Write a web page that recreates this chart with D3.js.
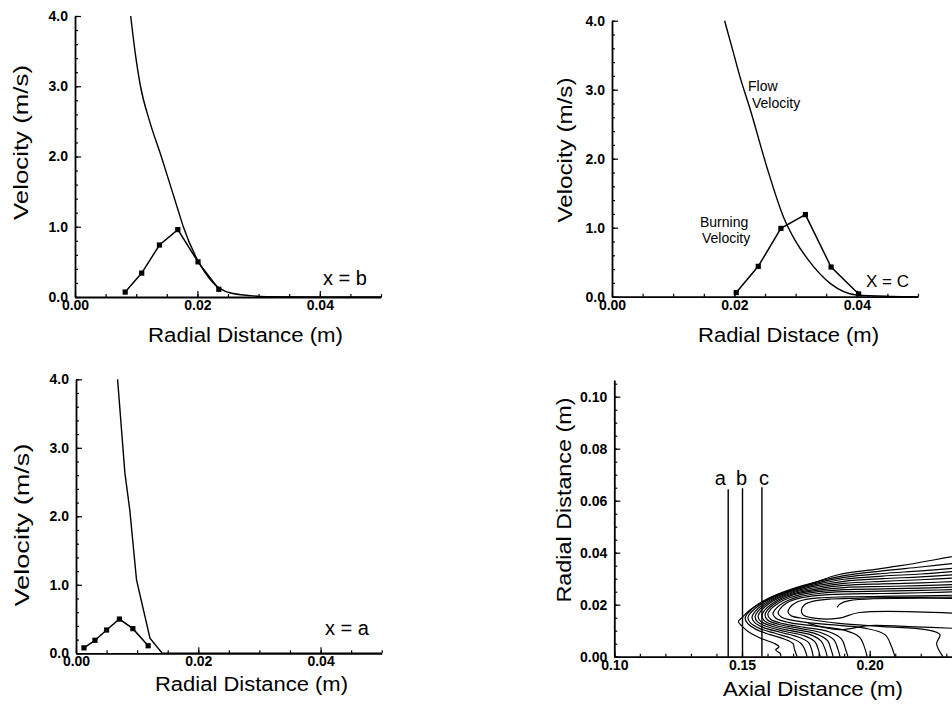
<!DOCTYPE html>
<html><head><meta charset="utf-8">
<script src="https://cdn.jsdelivr.net/npm/d3@7"></script>
<style>
body{margin:0;background:#fff}
text{font-family:"Liberation Sans",Arial,Helvetica,sans-serif;fill:#000}
.tick text{font-weight:bold;font-size:14px}
</style>
</head><body>
<svg id="chart" width="952" height="705"></svg>
<script>
// ---------------- data ----------------
const velocityTicks = [0, 1, 2, 3, 4];
const velocityMinor = d3.range(0, 4.01, 0.2);
const radialTicks = [0, 0.02, 0.04];
const radialMinor = d3.range(0, 0.0501, 0.005);

// x = b
const flowB_r = [0.0091, 0.0098, 0.0107, 0.0122, 0.0141, 0.0159, 0.0168, 0.0177, 0.0200, 0.0226, 0.0253, 0.0286, 0.0313, 0.0400, 0.0500];
const flowB_v = [4.0, 3.5, 3.0, 2.5, 2.0, 1.5, 1.25, 1.0, 0.53, 0.20, 0.06, 0.02, 0.005, 0.0, 0.0];
const burnB_r = [0.0082, 0.0109, 0.0138, 0.0168, 0.0201, 0.0235];
const burnB_v = [0.07, 0.34, 0.74, 0.96, 0.50, 0.11];

// x = c
const flowC_r = [0.0184, 0.0197, 0.0209, 0.0226, 0.0253, 0.0280, 0.0299, 0.0321, 0.0357, 0.0400, 0.0455, 0.0500];
const flowC_v = [4.0, 3.58, 3.19, 2.71, 1.88, 1.16, 0.82, 0.53, 0.19, 0.025, 0.005, 0.0];
const burnC_r = [0.0203, 0.0239, 0.0276, 0.0316, 0.0358, 0.0403];
const burnC_v = [0.06, 0.44, 0.99, 1.19, 0.43, 0.04];

// x = a
const flowA_r = [0.0068, 0.0080, 0.0088, 0.0099, 0.0121, 0.0141, 0.0500];
const flowA_v = [4.0, 2.63, 2.09, 1.07, 0.22, 0.0, 0.0];
const burnA_r = [0.0013, 0.0031, 0.0050, 0.0071, 0.0093, 0.0118];
const burnA_v = [0.08, 0.19, 0.34, 0.50, 0.36, 0.11];

// contour panel
const axialTicks = [0.10, 0.15, 0.20];
const axialMinor = d3.range(0.10, 0.2501, 0.01);
const radialMapTicks = [0, 0.02, 0.04, 0.06, 0.08, 0.10];
const radialMapMinor = d3.range(0, 0.1051, 0.005);
const stationNames = ["a", "b", "c"];
const stationX = [0.1446, 0.1502, 0.1578];
const stationTop = [0.0644, 0.0648, 0.0652];

// contour lines: [axial, radial] pairs
const contours = [
 [[0.236,0.0392],[0.225,0.0372],[0.212,0.0350],[0.203,0.0337],[0.188,0.0316],[0.178,0.0284],[0.1675,0.0250],[0.1597,0.0218],[0.1531,0.0180],[0.1503,0.0153],[0.1486,0.0135],[0.1503,0.0115],[0.1531,0.0092],[0.1580,0.0068],[0.1625,0.0052],[0.1645,0.0038],[0.1632,0.0026],[0.1650,0.0012],[0.1652,0]],
 [[0.236,0.0362],[0.22,0.0345],[0.205,0.0330],[0.19,0.0312],[0.18,0.0290],[0.170,0.0262],[0.162,0.0232],[0.156,0.0200],[0.1525,0.0170],[0.1512,0.0148],[0.1522,0.0128],[0.1555,0.0105],[0.161,0.0085],[0.1665,0.0068],[0.170,0.0050],[0.1705,0.0030],[0.1716,0]],
 [[0.236,0.0343],[0.22,0.0330],[0.205,0.0320],[0.19,0.0305],[0.18,0.0285],[0.170,0.0258],[0.1625,0.0230],[0.157,0.0200],[0.1535,0.0170],[0.1523,0.0150],[0.1533,0.0130],[0.157,0.0108],[0.163,0.0090],[0.169,0.0072],[0.173,0.0052],[0.1745,0.0030],[0.1755,0]],
 [[0.236,0.0330],[0.22,0.0318],[0.205,0.0310],[0.19,0.0298],[0.18,0.0280],[0.170,0.0254],[0.163,0.0228],[0.158,0.0200],[0.155,0.0172],[0.1539,0.0152],[0.1549,0.0132],[0.1585,0.0112],[0.165,0.0094],[0.172,0.0076],[0.176,0.0055],[0.1772,0.0030],[0.1779,0]],
 [[0.236,0.0317],[0.22,0.0307],[0.205,0.0300],[0.19,0.0290],[0.18,0.0274],[0.170,0.0250],[0.1635,0.0226],[0.159,0.0200],[0.1562,0.0174],[0.1551,0.0154],[0.1561,0.0134],[0.160,0.0115],[0.167,0.0097],[0.1745,0.0080],[0.1785,0.0058],[0.1798,0.0030],[0.1806,0]],
 [[0.236,0.0304],[0.22,0.0296],[0.205,0.0290],[0.19,0.0282],[0.18,0.0268],[0.170,0.0246],[0.164,0.0224],[0.160,0.0200],[0.1574,0.0176],[0.1563,0.0156],[0.1573,0.0136],[0.1615,0.0118],[0.169,0.0100],[0.177,0.0084],[0.181,0.0060],[0.1825,0.0030],[0.1834,0]],
 [[0.236,0.0290],[0.22,0.0284],[0.205,0.0280],[0.19,0.0274],[0.18,0.0262],[0.170,0.0242],[0.1648,0.0222],[0.1612,0.0200],[0.1588,0.0178],[0.1578,0.0158],[0.1588,0.0138],[0.163,0.0121],[0.171,0.0104],[0.179,0.0088],[0.1835,0.0062],[0.1848,0.0030],[0.1857,0]],
 [[0.236,0.0279],[0.22,0.0273],[0.205,0.0270],[0.19,0.0266],[0.18,0.0256],[0.170,0.0238],[0.1655,0.0220],[0.1622,0.0200],[0.1600,0.0180],[0.1590,0.0160],[0.1600,0.0141],[0.1645,0.0124],[0.173,0.0108],[0.181,0.0092],[0.186,0.0065],[0.1875,0.0030],[0.1884,0]],
 [[0.236,0.0269],[0.22,0.0264],[0.205,0.0261],[0.19,0.0258],[0.18,0.0250],[0.171,0.0234],[0.1665,0.0218],[0.1634,0.0200],[0.1612,0.0182],[0.1601,0.0162],[0.1612,0.0144],[0.166,0.0127],[0.175,0.0112],[0.184,0.0096],[0.189,0.0068],[0.1905,0.0030],[0.1915,0]],
 [[0.236,0.0259],[0.22,0.0255],[0.205,0.0252],[0.19,0.0250],[0.18,0.0243],[0.172,0.0230],[0.168,0.0216],[0.165,0.0200],[0.1632,0.0184],[0.1621,0.0165],[0.1633,0.0148],[0.168,0.0132],[0.178,0.0118],[0.190,0.0102],[0.196,0.0075],[0.198,0.0035],[0.1990,0]],
 [[0.236,0.0250],[0.22,0.0246],[0.205,0.0243],[0.19,0.0241],[0.18,0.0236],[0.173,0.0226],[0.169,0.0214],[0.1665,0.0200],[0.1650,0.0185],[0.1641,0.0168],[0.1655,0.0152],[0.171,0.0138],[0.182,0.0125],[0.198,0.0110],[0.206,0.0085],[0.2085,0.0040],[0.2099,0]],
 [[0.236,0.0237],[0.22,0.0234],[0.205,0.0232],[0.19,0.0230],[0.18,0.0226],[0.174,0.0218],[0.1705,0.0205],[0.1688,0.0190],[0.1680,0.0172],[0.1693,0.0157],[0.175,0.0146],[0.188,0.0128],[0.205,0.0116],[0.222,0.0104],[0.2275,0.0085],[0.2262,0.0050],[0.2287,0]],
 [[0.236,0.0230],[0.22,0.0228],[0.20,0.0226],[0.185,0.0222],[0.178,0.0214],[0.1745,0.0200],[0.1733,0.0180],[0.1738,0.0162],[0.177,0.0150],[0.188,0.0148],[0.196,0.0170],[0.236,0.0166]],
 [[0.1872,0.0190],[0.1885,0.0204],[0.192,0.0216],[0.236,0.0224]],
 [[0.176,0.0128],[0.188,0.0104],[0.200,0.0120],[0.215,0.0116],[0.236,0.0108]]
];

// ---------------- drawing ----------------
const svg = d3.select("#chart");

function addTitleX(text, cx, y, len, size) {
  svg.append("text").attr("x", cx).attr("y", y).attr("text-anchor", "middle")
    .attr("font-size", size).attr("textLength", len).attr("lengthAdjust", "spacingAndGlyphs").text(text);
}
function addTitleY(text, x, cy, len, size) {
  svg.append("text").attr("transform", `translate(${x},${cy}) rotate(-90)`)
    .attr("text-anchor", "middle").attr("font-size", size)
    .attr("textLength", len).attr("lengthAdjust", "spacingAndGlyphs").text(text);
}

function drawAxes(x, y, xt, xm, yt, ym, xfmt, yfmt) {
  const bx = x.range()[0]; const by = y.range()[0];
  const g = svg.append("g");
  g.append("g").attr("transform", `translate(0,${by})`)
    .call(d3.axisBottom(x).tickValues(xm).tickSize(-3).tickSizeOuter(0).tickFormat(""))
    .call(s => s.select(".domain").remove());
  g.append("g").attr("transform", `translate(${bx},0)`)
    .call(d3.axisLeft(y).tickValues(ym).tickSize(-3).tickSizeOuter(0).tickFormat(""))
    .call(s => s.select(".domain").remove());
  g.append("g").attr("transform", `translate(0,${by})`)
    .call(d3.axisBottom(x).tickValues(xt).tickSize(-6).tickSizeOuter(0).tickPadding(3).tickFormat(d3.format(xfmt)))
    .call(s => s.select(".domain").attr("stroke-width", 1.8));
  g.append("g").attr("transform", `translate(${bx},0)`)
    .call(d3.axisLeft(y).tickValues(yt).tickSize(-6).tickSizeOuter(0).tickPadding(7).tickFormat(d3.format(yfmt)))
    .call(s => s.select(".domain").attr("stroke-width", 1.8));
  g.selectAll(".tick line").attr("stroke-width", 1.2);
}

function velocityPanel(p) {
  const x = d3.scaleLinear().domain([0, 0.05]).range([p.left, p.right]);
  const y = d3.scaleLinear().domain([0, 4]).range([p.bottom, p.top]);
  drawAxes(x, y, radialTicks, radialMinor, velocityTicks, velocityMinor, ".2f", ".1f");
  const flowLine = d3.line().x(d => x(d[0])).y(d => y(d[1])).curve(p.smooth ? d3.curveMonotoneX : d3.curveLinear);
  const line = d3.line().x(d => x(d[0])).y(d => y(d[1]));
  const flow = p.flowR.map((r, i) => [r, p.flowV[i]]);
  const burn = p.burnR.map((r, i) => [r, p.burnV[i]]);
  svg.append("path").attr("d", flowLine(flow)).attr("fill", "none").attr("stroke", "#000").attr("stroke-width", 1.4);
  svg.append("path").attr("d", line(burn)).attr("fill", "none").attr("stroke", "#000").attr("stroke-width", 1.5);
  svg.append("g").selectAll("rect").data(burn).join("rect")
    .attr("x", d => x(d[0]) - 2.6).attr("y", d => y(d[1]) - 2.6)
    .attr("width", 5.2).attr("height", 5.2).attr("fill", "#000");
}

velocityPanel({left: 75, right: 381, top: 16, bottom: 297, smooth: true, flowR: flowB_r, flowV: flowB_v, burnR: burnB_r, burnV: burnB_v});
velocityPanel({left: 612, right: 918, top: 20.7, bottom: 296.7, smooth: true, flowR: flowC_r, flowV: flowC_v, burnR: burnC_r, burnV: burnC_v});
velocityPanel({left: 76, right: 381.7, top: 379.3, bottom: 653.3, smooth: false, flowR: flowA_r, flowV: flowA_v, burnR: burnA_r, burnV: burnA_v});

// titles
addTitleX("Radial Distance (m)", 245.5, 342, 195, 20);
addTitleX("Radial Distace (m)", 788.5, 342, 181, 20);
addTitleX("Radial Distance (m)", 251.5, 691, 193, 20);
addTitleX("Axial Distance (m)", 813, 696, 180, 20);
addTitleY("Velocity (m/s)", 28, 142.5, 155, 20);
addTitleY("Velocity (m/s)", 572, 150, 145, 20);
addTitleY("Velocity (m/s)", 29, 525, 163, 20);
addTitleY("Radial Distance (m)", 571, 500, 205, 21);

// annotations
svg.append("text").attr("x", 323).attr("y", 285).attr("font-size", 20).text("x = b");
svg.append("text").attr("x", 866).attr("y", 287).attr("font-size", 17).text("X = C");
svg.append("text").attr("x", 325).attr("y", 635).attr("font-size", 20).text("x = a");
svg.append("text").attr("x", 748).attr("y", 91).attr("font-size", 14).text("Flow");
svg.append("text").attr("x", 752).attr("y", 108).attr("font-size", 14).text("Velocity");
svg.append("text").attr("x", 700).attr("y", 227).attr("font-size", 14).text("Burning");
svg.append("text").attr("x", 702).attr("y", 243).attr("font-size", 14).text("Velocity");

// contour panel
const xm = d3.scaleLinear().domain([0.10, 0.25]).range([614.3, 614.3 + 0.15 * 2554]);
const ym = d3.scaleLinear().domain([0, 0.1064]).range([656.7, 656.7 - 0.1064 * 2600]);
drawAxes(xm, ym, axialTicks, axialMinor, radialMapTicks, radialMapMinor, ".2f", ".2f");
const cl = d3.line().x(d => xm(d[0])).y(d => ym(d[1])).curve(d3.curveCatmullRom.alpha(0.5));
svg.append("g").selectAll("path").data(contours).join("path")
  .attr("d", cl).attr("fill", "none").attr("stroke", "#000").attr("stroke-width", 1.2);
svg.append("g").selectAll("line").data(stationX).join("line")
  .attr("x1", d => xm(d)).attr("x2", d => xm(d))
  .attr("y1", ym(0)).attr("y2", (d, i) => ym(stationTop[i]))
  .attr("stroke", "#000").attr("stroke-width", 1.4);
svg.append("g").selectAll("text").data(stationNames).join("text")
  .attr("x", (d, i) => xm(stationX[i]) - [8, 1, -2][i]).attr("y", 485)
  .attr("text-anchor", "middle").attr("font-size", 20).text(d => d);
</script>
</body></html>
